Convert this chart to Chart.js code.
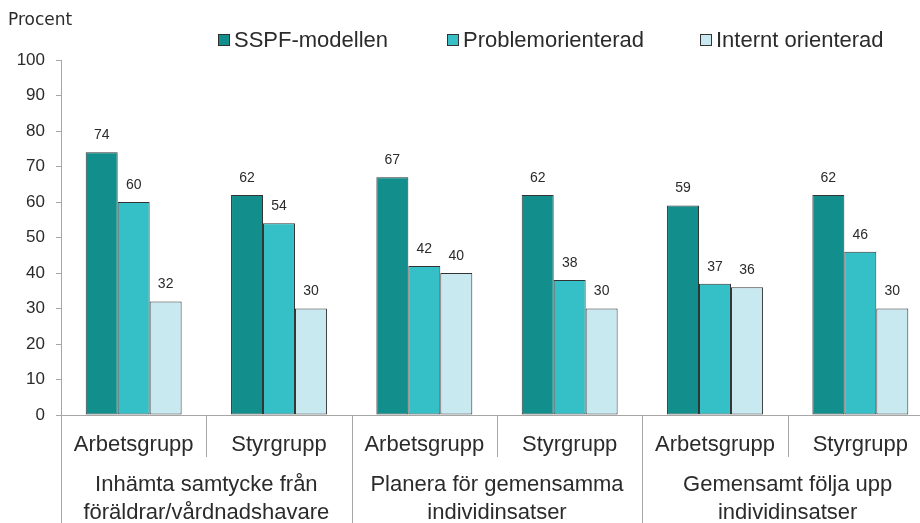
<!DOCTYPE html>
<html>
<head>
<meta charset="utf-8">
<script src="https://cdn.jsdelivr.net/npm/chart.js@4/dist/chart.umd.min.js"></script>
<style>
  html, body { margin: 0; padding: 0; background: #fff; overflow: hidden; }
  #wrap { width: 933px; height: 523px; }
</style>
</head>
<body>
<div id="wrap"><canvas id="c" width="933" height="523"></canvas></div>
<script>
const subCategories = ["Arbetsgrupp", "Styrgrupp", "Arbetsgrupp", "Styrgrupp", "Arbetsgrupp", "Styrgrupp"];
const groupLabels = [
  ["Inhämta samtycke från", "föräldrar/vårdnadshavare"],
  ["Planera för gemensamma", "individinsatser"],
  ["Gemensamt följa upp", "individinsatser"]
];
const seriesNames = ["SSPF-modellen", "Problemorienterad", "Internt orienterad"];
const sspf = [74, 62, 67, 62, 59, 62];
const problem = [60, 54, 42, 38, 37, 46];
const internt = [32, 30, 40, 30, 36, 30];
const yTicks = [0, 10, 20, 30, 40, 50, 60, 70, 80, 90, 100];
const colors = ["#128f8c", "#35c0c7", "#c9e9f1"];
const TEXT = "#2b2b2b";
const AXIS = "#a6a6a6";

const overlay = {
  id: "overlay",
  afterDraw(chart) {
    const ctx = chart.ctx;
    const x = chart.scales.x;
    const area = chart.chartArea;
    const H = chart.height;
    ctx.save();
    // "Procent"
    ctx.fillStyle = TEXT;
    ctx.font = "17px 'DejaVu Sans', Verdana, sans-serif";
    ctx.textAlign = "left";
    ctx.textBaseline = "middle";
    ctx.fillText("Procent", 8, 21);

    // legend
    const legendX = [218, 447, 700];
    ctx.font = "22px 'Liberation Sans', Arial, sans-serif";
    chart.data.datasets.forEach((ds, i) => {
      ctx.fillStyle = ds.backgroundColor;
      ctx.fillRect(legendX[i], 34, 11, 11);
      ctx.strokeStyle = "#333";
      ctx.lineWidth = 1;
      ctx.strokeRect(legendX[i] + 0.5, 34.5, 11, 11);
      ctx.fillStyle = TEXT;
      ctx.fillText(ds.label, legendX[i] + 16, 41);
    });

    // data labels
    ctx.font = "14px 'Liberation Sans', Arial, sans-serif";
    ctx.textAlign = "center";
    chart.data.datasets.forEach((ds, i) => {
      const meta = chart.getDatasetMeta(i);
      meta.data.forEach((bar, j) => {
        ctx.fillText(String(ds.data[j]), bar.x, bar.y - 17);
      });
    });

    // x labels and dividers
    const n = chart.data.labels.length;
    const cw = (x.getPixelForValue(1) - x.getPixelForValue(0));
    ctx.strokeStyle = AXIS;
    ctx.lineWidth = 1;
    for (let i = 0; i <= n; i++) {
      const bx = Math.round(x.getPixelForValue(i) - cw / 2) + 0.5;
      const isGroup = i % 2 === 0;
      ctx.beginPath();
      ctx.moveTo(bx, area.bottom);
      ctx.lineTo(bx, isGroup ? H : area.bottom + 42);
      ctx.stroke();
    }
    ctx.fillStyle = TEXT;
    ctx.font = "22px 'Liberation Sans', Arial, sans-serif";
    ctx.textAlign = "center";
    chart.data.labels.forEach((lab, i) => {
      ctx.fillText(lab, x.getPixelForValue(i), 445);
    });
    groupLabels.forEach((lines, g) => {
      const cx = (x.getPixelForValue(2 * g) + x.getPixelForValue(2 * g + 1)) / 2;
      ctx.fillText(lines[0], cx, 485);
      ctx.fillText(lines[1], cx, 513);
    });
    ctx.restore();
  }
};

new Chart(document.getElementById("c"), {
  type: "bar",
  data: {
    labels: subCategories,
    datasets: [
      { label: seriesNames[0], data: sspf, backgroundColor: colors[0] },
      { label: seriesNames[1], data: problem, backgroundColor: colors[1] },
      { label: seriesNames[2], data: internt, backgroundColor: colors[2] }
    ].map(d => Object.assign(d, { borderColor: "#333", borderWidth: 1, borderSkipped: false }))
  },
  options: {
    responsive: false,
    animation: false,
    devicePixelRatio: 1,
    layout: { padding: { top: 60, right: 0, bottom: 0, left: 0 } },
    plugins: { legend: { display: false }, tooltip: { enabled: false } },
    datasets: { bar: { categoryPercentage: 0.66, barPercentage: 1.0 } },
    scales: {
      x: {
        grid: { display: false },
        border: { display: true, color: AXIS },
        ticks: { display: false },
        afterFit(s) { s.height = 108; }
      },
      y: {
        min: 0, max: 100,
        afterBuildTicks(s) { s.ticks = yTicks.map(v => ({ value: v })); },
        grid: { drawOnChartArea: false, drawTicks: true, tickLength: 5, color: AXIS },
        border: { display: true, color: AXIS },
        ticks: { color: TEXT, padding: 11, font: { family: "'Liberation Sans', Arial, sans-serif", size: 17 } },
        afterFit(s) { s.width = 61; }
      }
    }
  },
  plugins: [overlay]
});
</script>
</body>
</html>
